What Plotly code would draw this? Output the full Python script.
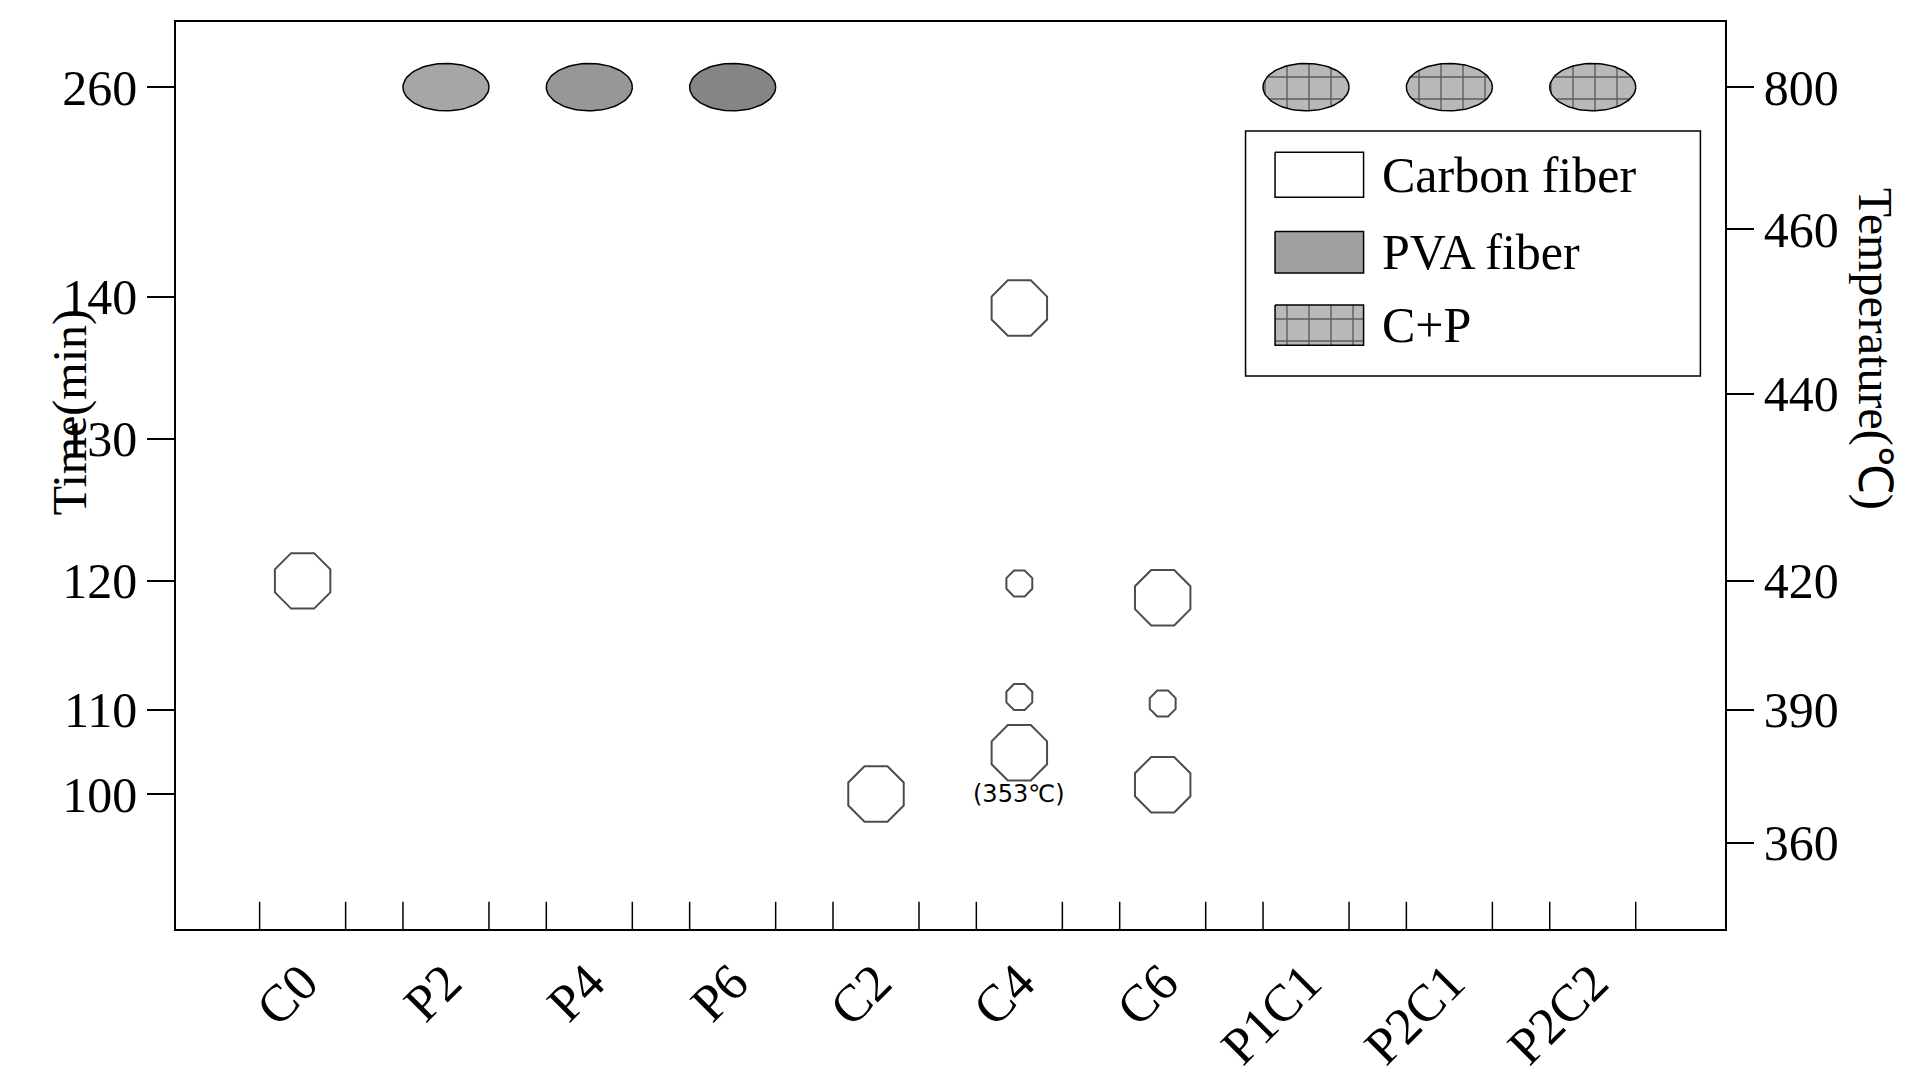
import numpy as np
import plotly.graph_objects as go

categories = ["C0", "P2", "P4", "P6", "C2", "C4", "C6", "P1C1", "P2C1", "P2C2"]
time_ticks = [100, 110, 120, 130, 140, 260]
time_pos = [114, 185, 294, 414, 534, 711]
temp_ticks = [360, 390, 420, 440, 460, 800]
temp_pos = [73, 185, 294, 452, 591, 711]

carbon_cat = ["C0", "C2", "C4", "C4", "C4", "C4", "C6", "C6", "C6"]
carbon_time = [120, 100, 139.2, 119.8, 111.0, 104.9, 118.7, 110.5, 101.1]
carbon_big = [1, 1, 1, 0, 0, 1, 1, 0, 1]
pva_cat = ["P2", "P4", "P6"]
pva_time = [260, 260, 260]
pva_color = ["#a6a6a6", "#979797", "#858585"]
cp_cat = ["P1C1", "P2C1", "P2C2"]
cp_time = [260, 260, 260]

FONT = "Liberation Serif"
def tpos(t):
    return float(np.interp(t, time_ticks, time_pos))
def cx(c):
    return categories.index(c)

fig = go.Figure()
th = np.linspace(0, 2*np.pi, 80)
def ellipse(c, t, fill, pattern=None):
    x = cx(c) + 0.3*np.cos(th)
    y = tpos(t) + 20*np.sin(th)
    fig.add_trace(go.Scatter(x=x, y=y, mode="lines", fill="toself", fillcolor=fill,
                             line=dict(color="black", width=1.5), fillpattern=pattern,
                             showlegend=False, hoverinfo="skip"))
for c, t, col in zip(pva_cat, pva_time, pva_color):
    ellipse(c, t, col)
hatch = dict(shape="+", fgcolor="black", bgcolor="#b8b8b8", size=22, solidity=0.12, fillmode="overlay")
for c, t in zip(cp_cat, cp_time):
    ellipse(c, t, "#b8b8b8", hatch)

fig.add_trace(go.Scatter(x=[cx(c) for c in carbon_cat], y=[tpos(t) for t in carbon_time],
                         mode="markers", showlegend=False,
                         marker=dict(symbol="octagon-open", size=[60 if b else 28 for b in carbon_big],
                                     color="black", line=dict(width=2, color="black"))))

tx, ty = [], []
for i in range(len(categories)):
    for d in (-0.3, 0.3):
        tx += [i+d, i+d, None]; ty += [0, 23, None]
fig.add_trace(go.Scatter(x=tx, y=ty, mode="lines", line=dict(color="black", width=1.5),
                         showlegend=False, hoverinfo="skip"))

fig.add_trace(go.Scatter(x=[None], y=[None], yaxis="y2", showlegend=False))

fig.add_annotation(x=cx("C4"), y=tpos(100), text="(353℃)", showarrow=False,
                   font=dict(family="DejaVu Sans", size=24, color="black"))

def vx(p): return (p-240)/116.6
def vy(p): return 776-p
fig.add_shape(type="rect", x0=vx(1007), x1=vx(1377), y0=vy(309), y1=vy(102),
              line=dict(color="black", width=1.5), fillcolor="white", layer="below")
sw = [(120, 158, "white", None, "Carbon fiber"), (187, 222, "#a0a0a0", None, "PVA fiber"),
      (249, 283, "#d0d0d0", hatch, "C+P")]
for y0, y1, col, pat, lab in sw:
    fig.add_trace(go.Scatter(x=[vx(1031), vx(1103), vx(1103), vx(1031), vx(1031)],
                             y=[vy(y0), vy(y0), vy(y1), vy(y1), vy(y0)], mode="lines",
                             fill="toself", fillcolor=col, fillpattern=pat,
                             line=dict(color="black", width=1.5), showlegend=False, hoverinfo="skip"))
    fig.add_annotation(x=vx(1116), y=vy((y0+y1)/2), text=lab, showarrow=False, xanchor="left",
                       font=dict(family=FONT, size=50, color="black"))

fig.add_annotation(xref="paper", yref="paper", x=-0.087, y=0.57, text="Time(min)", textangle=-90,
                   showarrow=False, font=dict(family=FONT, size=48, color="black"))
fig.add_annotation(xref="paper", yref="paper", x=1.116, y=0.64, text="Temperature(℃)", textangle=90,
                   showarrow=False, font=dict(family=FONT, size=48, color="black"))

fig.update_layout(
    width=1924, height=1079, plot_bgcolor="white", paper_bgcolor="white",
    margin=dict(l=168, r=207, t=12, b=125),
    xaxis=dict(range=[(137-240)/116.6, (1397-240)/116.6], tickvals=list(range(len(categories))),
               ticktext=categories, tickangle=-45, ticks="", showline=True, mirror=True,
               linecolor="black", linewidth=1.5, showgrid=False, zeroline=False,
               tickfont=dict(family=FONT, size=52, color="black")),
    yaxis=dict(range=[0, 766], tickvals=time_pos, ticktext=[str(v) for v in time_ticks],
               ticks="outside", ticklen=27, tickwidth=1.5, tickcolor="black", showline=True,
               linecolor="black", linewidth=1.5, showgrid=False, zeroline=False,
               tickfont=dict(family=FONT, size=50, color="black")),
    yaxis2=dict(range=[0, 766], overlaying="y", side="right", tickvals=temp_pos,
                ticktext=[str(v) for v in temp_ticks], ticks="outside", ticklen=27, tickwidth=1.5,
                tickcolor="black", showline=True, linecolor="black", linewidth=1.5,
                showgrid=False, zeroline=False, tickfont=dict(family=FONT, size=50, color="black")),
)
fig.write_html("out.html")
